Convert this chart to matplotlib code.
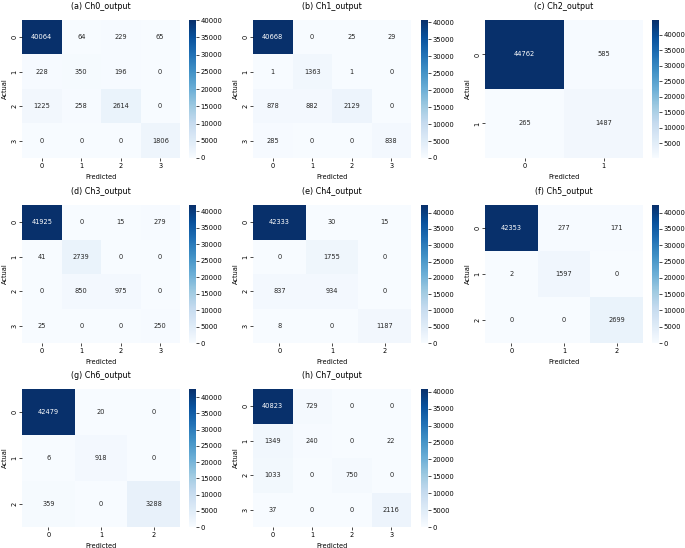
import numpy as np
import matplotlib
matplotlib.use("Agg")
import matplotlib.pyplot as plt
import seaborn as sns

# confusion matrices
ch0 = [[40064, 64, 229, 65], [228, 350, 196, 0], [1225, 258, 2614, 0], [0, 0, 0, 1806]]
ch1 = [[40668, 0, 25, 29], [1, 1363, 1, 0], [878, 882, 2129, 0], [285, 0, 0, 838]]
ch2 = [[44762, 585], [265, 1487]]
ch3 = [[41925, 0, 15, 279], [41, 2739, 0, 0], [0, 850, 975, 0], [25, 0, 0, 250]]
ch4 = [[42333, 30, 15], [0, 1755, 0], [837, 934, 0], [8, 0, 1187]]
ch5 = [[42353, 277, 171], [2, 1597, 0], [0, 0, 2699]]
ch6 = [[42479, 20, 0], [6, 918, 0], [359, 0, 3288]]
ch7 = [[40823, 729, 0, 0], [1349, 240, 0, 22], [1033, 0, 750, 0], [37, 0, 0, 2116]]

matrices = [ch0, ch1, ch2, ch3, ch4, ch5, ch6, ch7]
titles = ["(a) Ch0_output", "(b) Ch1_output", "(c) Ch2_output", "(d) Ch3_output",
          "(e) Ch4_output", "(f) Ch5_output", "(g) Ch6_output", "(h) Ch7_output"]

W, H = 685, 548
fig = plt.figure(figsize=(W / 100, H / 100), dpi=100)

col_left = [22, 253, 485]
cbar_left = [189, 421, 652]
row_top = [20, 205, 389]
hm_w, hm_h = 158, 138

for k, (m, t) in enumerate(zip(matrices, titles)):
    r, c = divmod(k, 3)
    ax = fig.add_axes([col_left[c] / W, 1 - (row_top[r] + hm_h) / H, hm_w / W, hm_h / H])
    cax = fig.add_axes([cbar_left[c] / W, 1 - (row_top[r] + hm_h) / H, 7 / W, hm_h / H])
    data = np.array(m)
    sns.heatmap(data, annot=True, fmt="d", cmap="Blues", ax=ax, cbar_ax=cax,
                annot_kws={"fontsize": 4.8},
                xticklabels=list(range(data.shape[1])),
                yticklabels=list(range(data.shape[0])))
    ax.set_title(t, fontsize=5.8, pad=8)
    ax.set_xlabel("Predicted", fontsize=4.8, labelpad=4)
    ax.set_ylabel("Actual", fontsize=4.8, labelpad=2.5)
    ax.tick_params(labelsize=4.8, length=2, width=0.5, pad=1.5)
    plt.setp(ax.get_yticklabels(), rotation=90, va="center")
    cax.tick_params(labelsize=4.9, length=2, width=0.5, pad=1)
    for s in cax.spines.values():
        s.set_visible(False)

fig.savefig("out.png", dpi=100)
